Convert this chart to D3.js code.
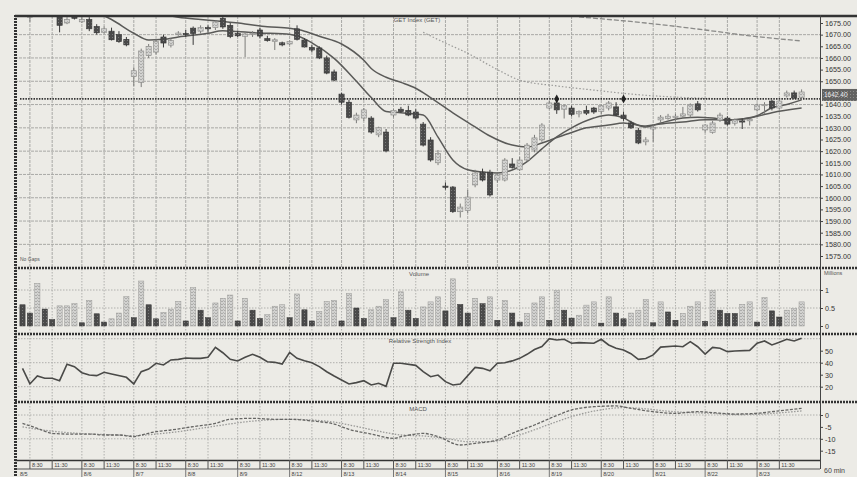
<!DOCTYPE html>
<html><head><meta charset="utf-8">
<script src="https://cdn.jsdelivr.net/npm/d3@7"></script>
<style>
html,body{margin:0;padding:0;background:#ecebe6;}
svg{display:block;font-family:"Liberation Sans",Arial,sans-serif;}
</style></head><body>
<svg id="c" width="857" height="477"></svg>
<script>
// ---------- DATA ----------
const open  = [1680,1677.5,1679,1682,1681,1679,1675,1678,1675.5,1676.5,1673.5,1671,1671.5,1670,1668,1652,1649.5,1661,1662.5,1669,1665.5,1670,1670.5,1672.8,1671.5,1673,1673,1677,1674,1670.5,1669.3,1670,1672,1668.3,1667,1666.5,1666,1672.5,1667.7,1664.5,1664.3,1660,1654,1644.5,1641,1633.4,1634.2,1634.2,1627,1628.2,1635.5,1638,1637.5,1636.8,1631.6,1624.8,1615,1605,1604.6,1594,1594.5,1605.5,1611,1611,1607.6,1607.6,1614.5,1612,1616.2,1620.5,1624.8,1638.5,1640.7,1638,1638.5,1636,1637.5,1638.5,1637,1638.5,1639,1635.5,1632.1,1629,1624,1629.5,1633.4,1634,1634.5,1635,1635.5,1640.3,1629.1,1628,1633.4,1634.2,1632,1633,1633,1637.7,1639.5,1641.5,1638.5,1643.7,1645,1643];
const high  = [1682,1679,1683,1684,1682,1680,1677.5,1680,1677.5,1677.5,1674.5,1673.5,1673,1671.5,1669,1656,1664,1666,1668,1670,1668.5,1671.5,1672,1673.5,1674,1674,1676,1678,1675,1671.5,1671,1671.5,1673,1669.5,1668.5,1667,1667.5,1674,1668.5,1665.5,1665,1661,1655,1645,1642,1636.5,1638.5,1635,1630.5,1629.5,1638,1639,1639.5,1638,1632.5,1626,1620.5,1606.5,1605,1597.5,1603.3,1612,1612.5,1612,1610.5,1617,1617,1617.5,1623.5,1627,1632,1641.5,1642.5,1640,1639.5,1637.5,1639.5,1639,1640,1641.5,1641,1637,1633,1630,1626,1631.5,1635.5,1636,1636,1639,1640.5,1641.5,1631.5,1633,1636.5,1635,1634,1634,1634,1640.5,1641,1642,1642,1646,1646,1646.5];
const low   = [1678.5,1675.5,1678,1680,1677.5,1671,1674.5,1676.5,1675,1671.5,1670,1670.5,1667.5,1666.5,1665,1648,1647.5,1660,1661.5,1664.5,1664.5,1669.5,1669,1665.6,1670.5,1671,1672,1672.5,1668.5,1669,1660.4,1669,1668.5,1667,1663.4,1665,1665.5,1667.5,1664.5,1662.5,1659.5,1653,1650,1640,1634,1632,1633,1627.5,1626,1619.5,1634.5,1636.5,1635,1633.5,1622,1615.5,1614,1603.5,1593.5,1591.5,1593.5,1604.5,1607,1600.5,1606.5,1607,1612.5,1611.5,1615.5,1619.5,1624,1638,1636,1634,1635,1634.5,1635.5,1636,1636,1637.5,1635,1633,1629.5,1623,1622.5,1624,1632.5,1633.5,1633,1634.5,1634.5,1637,1628,1627.5,1632.5,1631,1631,1629.5,1631,1637,1636,1637.5,1638,1643,1642.5,1642.5];
const close = [1681,1678,1682,1681,1679,1674,1676.5,1677,1676.5,1672.5,1670.8,1672.5,1667.8,1667,1665.6,1654.5,1663,1665,1667,1666.4,1667.5,1670.7,1670.2,1670.5,1673,1672.5,1675.5,1673.3,1669.2,1669.5,1670.3,1670.5,1669.4,1667.4,1667.8,1665.6,1667,1668,1664.7,1663.4,1660,1653.5,1650.5,1641,1634.5,1635.5,1637.7,1628.2,1630,1620.1,1637.5,1637,1635.5,1634.2,1622.6,1616.2,1619,1604.6,1594,1596,1600.3,1610.6,1607.6,1601.2,1609.8,1616.2,1613,1616.2,1622.6,1625.7,1631.2,1640.7,1637.7,1639.5,1635.8,1637,1636.3,1636.8,1639.5,1640.7,1635.5,1634,1630,1623.5,1624.8,1630.3,1634.6,1635,1635,1636,1639.8,1637.7,1631.2,1632.1,1635.5,1631.6,1633.4,1632.5,1633.6,1639.8,1640,1638.5,1641.5,1645,1642.8,1645.4];

// fast / slow averages and two long averages, read as [bar, price] points
const maFast = [[10,1679.5],[12,1676.5],[15,1670.6],[17,1667.7],[19,1668],[21,1669],[25,1670.6],[27,1671.7],[29,1671.3],[32,1670.7],[35,1670.4],[37,1669.5],[39,1666.5],[42,1659.8],[45,1650],[47,1643],[49,1637],[51,1636.5],[54,1635.5],[56,1626],[58,1616.2],[60,1612],[62,1611],[64,1610.6],[66,1611.9],[68,1615.5],[70,1621],[72,1626.1],[74,1630],[77,1634.2],[79,1635.5],[81,1634.3],[82,1632.5],[84,1630.4],[86,1632.1],[89,1634.2],[91,1634.6],[93,1634.2],[95,1633.4],[97,1633.8],[99,1635.2],[101,1638.6],[103,1640],[105,1642]];
const maSlow = [[18,1679],[21,1677.5],[24,1676.5],[27,1675.6],[30,1674.6],[33,1673.4],[36,1672.7],[38,1671.5],[40,1669.3],[43,1666],[46,1659],[47,1655.5],[49,1651.7],[51,1649.5],[53,1647],[55,1643],[58,1636.4],[61,1630.4],[63,1626.5],[66,1622.6],[68,1621.8],[70,1623.5],[72,1625.8],[74,1628],[76,1630],[79,1631.2],[81,1632.1],[84,1630.8],[86,1631.7],[89,1632.5],[92,1633.5],[95,1633.4],[98,1634.2],[101,1636.5],[105,1638.5]];
const maLong1 = [[54,1671],[57,1666.4],[60,1662],[64,1655],[67,1650.5],[72,1648],[77,1646.2],[82,1644.5],[88,1643.2],[93,1642.6]];
const maLong2 = [[75,1677.6],[84,1675],[92,1672],[98,1669.5],[105,1667.3]];
const lastPrice = 1642.4;
const markerBars = [72, 81];

const volume = [0.59,0.36,1.18,0.47,0.18,0.56,0.56,0.62,0.09,0.71,0.34,0.11,0.2,0.36,0.82,0.23,1.25,0.59,0.2,0.38,0.47,0.68,0.14,1.07,0.44,0.23,0.64,0.77,0.86,0.14,0.77,0.44,0.21,0.32,0.55,0.59,0.23,0.89,0.45,0.14,0.41,0.68,0.71,0.14,0.91,0.5,0.21,0.45,0.55,0.73,0.23,0.95,0.44,0.21,0.53,0.67,0.81,0.42,1.31,0.6,0.36,0.77,0.62,0.81,0.16,0.71,0.36,0.11,0.35,0.64,0.81,0.16,0.99,0.44,0.22,0.3,0.58,0.67,0.08,0.81,0.36,0.2,0.36,0.44,0.74,0.09,0.67,0.39,0.16,0.35,0.55,0.67,0.13,0.99,0.44,0.35,0.35,0.6,0.67,0.11,0.79,0.42,0.25,0.44,0.49,0.67];
const volTone = ("ddlddllldl"+"ddllldlddl"+"lldlddllld"+"lddllldldd"+"llldlddlll"+"dlddllldld"+"dldldlddll"+"ldlddllldl"+"ddllldlddl"+"lldldddlld"+"lddlll").split("");

const rsi = [[0,35.3],[1,22.3],[2,28.9],[3,27],[4,27],[5,25],[6,38.7],[7,36.7],[8,31.7],[9,29.7],[10,29.2],[11,32],[12,30.6],[14,27.8],[15,22.3],[16,32.5],[17,34.7],[18,39.5],[19,38.1],[20,42.3],[21,42.8],[22,43.9],[23,43.6],[24,43.6],[25,44.5],[26,52.8],[27,48.3],[28,42.8],[29,41.4],[30,44.5],[31,47],[32,44.5],[33,40.8],[34,40.3],[35,38.9],[36,48.6],[37,43.6],[38,41.7],[39,40],[40,36.7],[41,32.5],[42,28.9],[43,25.6],[44,22.3],[45,23.4],[46,25],[47,21.4],[48,22.8],[49,20.3],[50,39.5],[51,39.5],[53,37.8],[54,32.5],[55,28.3],[56,29.7],[57,24.2],[58,21.4],[59,22.3],[61,36.1],[62,35.3],[63,33.3],[64,39.5],[65,40],[66,41.5],[67,43.6],[68,47],[69,51],[70,53.5],[71,60],[72,58.9],[73,59.5],[74,56.2],[75,56.7],[77,56.2],[78,59.5],[79,54.8],[80,52],[81,50.6],[82,47.5],[83,42.8],[84,43.5],[85,46.5],[86,53],[88,53.9],[89,53.3],[90,57.5],[91,53.3],[92,47.2],[93,52.8],[94,52],[95,49.2],[96,49.8],[98,50.3],[99,56.2],[100,58.1],[101,54.8],[102,57],[103,59.5],[104,58.1],[105,60.3]];

const macd = [[0,-3.5],[2,-5.6],[4,-7.7],[6,-8],[9,-8],[11,-8.4],[13,-8.4],[15,-9.1],[16,-8.4],[18,-7],[20,-6.3],[23,-4.9],[26,-3.5],[28,-1.8],[31,-1.4],[34,-1.8],[36,-1.8],[39,-2.5],[42,-3.8],[44,-6],[47,-8],[50,-9.8],[51,-9.1],[53,-8],[54,-7.7],[56,-9.1],[59,-12.6],[61,-11.9],[64,-10.5],[66,-7.7],[69,-4.2],[72,-0.2],[74,2.1],[77,3.5],[80,3.8],[82,2.8],[85,1.4],[88,0.7],[91,1.4],[93,1.0],[96,0.4],[99,0.7],[101,1.4],[105,2.8]];
const signal = [[0,-5],[4,-6.8],[8,-7.8],[12,-8.3],[15,-8.7],[18,-8],[21,-7],[24,-5.6],[27,-4.2],[30,-2.9],[33,-2.1],[36,-1.8],[39,-2.1],[42,-3],[45,-4.8],[48,-6.8],[51,-8.4],[54,-8.8],[57,-9.8],[60,-11.2],[63,-11.2],[66,-9.3],[69,-6.2],[72,-2.8],[75,0.2],[78,2.2],[81,3.1],[84,2.6],[87,1.6],[90,1.0],[93,0.7],[96,0.2],[99,0.3],[102,0.9],[105,1.7]];

// 1645.00 sits under the last-price box in the reference
const priceTicks = [1675,1670,1665,1660,1655,1650,1640,1635,1630,1625,1620,1615,1610,1605,1600,1595,1590,1585,1580,1575];
const priceGrid = [1670,1660,1650,1640,1630,1620,1610,1600,1590,1580];
const volTicks = [1,0.5,0]; const volGrid=[0.5,1];
const rsiTicks = [50,40,30,20]; const rsiGrid=[20,40,60];
const macdTicks = [0,-5,-10,-15]; const macdGrid=[0,-10];
const dates = ["8/5","8/6","8/7","8/8","8/9","8/12","8/13","8/14","8/15","8/16","8/19","8/20","8/21","8/22","8/23"];
const sessionTimes = ["8:30","11:30"];
const barsPerDay = 7;

// ---------- DRAWING ----------
const svg = d3.select("#c");
const L = 15, R = 820;
const x = d3.scaleLinear().domain([0,105]).range([22.5, 22.5+105*7.42]);
const yP = d3.scaleLinear().domain([1575,1675]).range([256,23]);
const yV = d3.scaleLinear().domain([0,1]).range([326,290]);
const yR = d3.scaleLinear().domain([20,50]).range([386.7,350.7]);
const yM = d3.scaleLinear().domain([-15,0]).range([450.7,415]);
const panels = [{t:16,b:267},{t:269,b:333},{t:335,b:401},{t:403,b:460}];

const defs = svg.append("defs");
panels.forEach((p,i)=>{
  defs.append("clipPath").attr("id","clip"+i).append("rect")
    .attr("x",L).attr("y",p.t).attr("width",R-L).attr("height",p.b-p.t);
});
const pl = defs.append("pattern").attr("id","hatchL").attr("width",3).attr("height",3).attr("patternUnits","userSpaceOnUse");
pl.append("rect").attr("width",3).attr("height",3).attr("fill","#d2d2d0");
pl.append("path").attr("d","M0,2 L1.5,0.5 L3,2").attr("stroke","#9c9c9a").attr("stroke-width",0.7).attr("fill","none");
const pd = defs.append("pattern").attr("id","hatchD").attr("width",3).attr("height",3).attr("patternUnits","userSpaceOnUse");
pd.append("rect").attr("width",3).attr("height",3).attr("fill","#4a4a4a");
pd.append("rect").attr("x",1).attr("y",1).attr("width",1).attr("height",1).attr("fill","#7a7a7a");

// gridlines
const days = d3.range(dates.length);
const gridBars = days.flatMap(k=>[k*barsPerDay+1, k*barsPerDay+4]);
const g = svg.append("g");
panels.forEach((p,i)=>{
  g.selectAll(null).data(gridBars).enter().append("line")
    .attr("x1",d=>x(d)).attr("x2",d=>x(d)).attr("y1",p.t).attr("y2",p.b)
    .attr("stroke", i===0?"#a9a9a6":"#b0b0ad").attr("stroke-width",1)
    .attr("stroke-dasharray", i===0?"3,1":"1.5,1.5");
});
g.selectAll(null).data(priceGrid).enter().append("line")
  .attr("x1",L).attr("x2",R).attr("y1",d=>yP(d)).attr("y2",d=>yP(d))
  .attr("stroke","#a9a9a6").attr("stroke-dasharray","3,1");
g.selectAll(null).data(volGrid).enter().append("line")
  .attr("x1",L).attr("x2",R).attr("y1",d=>yV(d)).attr("y2",d=>yV(d))
  .attr("stroke","#b0b0ad").attr("stroke-dasharray","1.5,1.5");
g.selectAll(null).data(rsiGrid).enter().append("line")
  .attr("x1",L).attr("x2",R).attr("y1",d=>yR(d)).attr("y2",d=>yR(d))
  .attr("stroke","#b0b0ad").attr("stroke-dasharray","1.5,1.5");
g.selectAll(null).data(macdGrid).enter().append("line")
  .attr("x1",L).attr("x2",R).attr("y1",d=>yM(d)).attr("y2",d=>yM(d))
  .attr("stroke","#b0b0ad").attr("stroke-dasharray","1.5,1.5");

// main panel
const main = svg.append("g").attr("clip-path","url(#clip0)");
const bars = d3.range(open.length);
const lineP = d3.line().x(d=>x(d[0])).y(d=>yP(d[1])).curve(d3.curveMonotoneX);
main.append("path").attr("d",lineP(maLong2)).attr("fill","none").attr("stroke","#8a8a88").attr("stroke-width",1.3).attr("stroke-dasharray","5,2");
main.append("path").attr("d",lineP(maLong1)).attr("fill","none").attr("stroke","#9a9a98").attr("stroke-width",1.2).attr("stroke-dasharray","1.5,2");
main.append("line").attr("x1",L+5).attr("x2",R).attr("y1",yP(lastPrice)).attr("y2",yP(lastPrice))
  .attr("stroke","#333").attr("stroke-width",1.8).attr("stroke-dasharray","1.5,1.2");
main.append("path").attr("d",lineP(maSlow)).attr("fill","none").attr("stroke","#5a5a58").attr("stroke-width",1.5);
main.append("path").attr("d",lineP(maFast)).attr("fill","none").attr("stroke","#5a5a58").attr("stroke-width",1.5);

main.selectAll(".wick").data(bars).enter().append("line")
  .attr("x1",i=>x(i)).attr("x2",i=>x(i)).attr("y1",i=>yP(high[i])).attr("y2",i=>yP(low[i]))
  .attr("stroke",i=>close[i]<open[i]?"#3a3a3a":"#7c7c7a").attr("stroke-width",1);
main.selectAll(".body").data(bars).enter().append("rect")
  .attr("x",i=>x(i)-2.6).attr("width",5.2)
  .attr("y",i=>yP(Math.max(open[i],close[i])))
  .attr("height",i=>Math.max(1.2,Math.abs(yP(open[i])-yP(close[i]))))
  .attr("fill",i=>close[i]<open[i]?"url(#hatchD)":"url(#hatchL)")
  .attr("stroke",i=>close[i]<open[i]?"#333":"#8a8a88").attr("stroke-width",0.6);
main.selectAll(".mk").data(markerBars).enter().append("path")
  .attr("d",d3.symbol(d3.symbolDiamond,22))
  .attr("transform",d=>`translate(${x(d)},${yP(lastPrice)})`).attr("fill","#222");

// volume
const vol = svg.append("g").attr("clip-path","url(#clip1)");
vol.selectAll("rect").data(bars).enter().append("rect")
  .attr("x",i=>x(i)-2.6).attr("width",5.2)
  .attr("y",i=>yV(volume[i])).attr("height",i=>yV(0)-yV(volume[i]))
  .attr("fill",i=>volTone[i]==="d"?"url(#hatchD)":"url(#hatchL)")
  .attr("stroke",i=>volTone[i]==="d"?"#333":"#9a9a98").attr("stroke-width",0.5);

// RSI
const lineR = d3.line().x(d=>x(d[0])).y(d=>yR(d[1]));
svg.append("g").attr("clip-path","url(#clip2)").append("path").attr("d",lineR(rsi))
  .attr("fill","none").attr("stroke","#4a4a48").attr("stroke-width",1.6);

// MACD
const lineM = d3.line().x(d=>x(d[0])).y(d=>yM(d[1])).curve(d3.curveMonotoneX);
const mg = svg.append("g").attr("clip-path","url(#clip3)");
mg.append("path").attr("d",lineM(signal)).attr("fill","none").attr("stroke","#9a9a98").attr("stroke-width",1.3).attr("stroke-dasharray","1.5,1.5");
mg.append("path").attr("d",lineM(macd)).attr("fill","none").attr("stroke","#666664").attr("stroke-width",1.3).attr("stroke-dasharray","3,1.5");

// borders
const bd = svg.append("g");
[16,268,334,402].forEach(yy=>{
  bd.append("line").attr("x1",L).attr("x2",857).attr("y1",yy).attr("y2",yy)
    .attr("stroke","#333").attr("stroke-width",2.5).attr("stroke-dasharray", yy===16?null:"2,1");
});
bd.append("line").attr("x1",L).attr("x2",R).attr("y1",460.5).attr("y2",460.5).attr("stroke","#333").attr("stroke-width",1.5);
bd.append("line").attr("x1",L).attr("x2",R).attr("y1",469).attr("y2",469).attr("stroke","#555").attr("stroke-width",1);
bd.append("line").attr("x1",15.5).attr("x2",15.5).attr("y1",15).attr("y2",477)
  .attr("stroke","#333").attr("stroke-width",3).attr("stroke-dasharray","2,1");
bd.append("line").attr("x1",R+0.5).attr("x2",R+0.5).attr("y1",15).attr("y2",469)
  .attr("stroke","#444").attr("stroke-width",1);

// axes
function rightAxis(scale, ticks, fmt){
  const a = svg.append("g").attr("transform",`translate(${R},0)`)
    .call(d3.axisRight(scale).tickValues(ticks).tickFormat(fmt).tickSize(3).tickPadding(2));
  a.select(".domain").remove();
  a.selectAll("line").attr("stroke","#444");
  a.selectAll("text").attr("font-size",7.2).attr("fill","#333").attr("font-family","Liberation Sans, Arial, sans-serif");
  return a;
}
rightAxis(yP, priceTicks, d=>d.toFixed(2));
rightAxis(yV, volTicks, d=>d===0.5?"0.5":String(d));
rightAxis(yR, rsiTicks, d=>String(d));
rightAxis(yM, macdTicks, d=>String(d));

// last-price box on the axis (covers the 1645 level, as in the reference)
svg.append("rect").attr("x",R+2).attr("y",yP(lastPrice)-10).attr("width",35).attr("height",12)
  .attr("fill","url(#hatchD)").attr("opacity",0.85);
svg.append("text").attr("x",R+4).attr("y",yP(lastPrice)-1.5).attr("font-size",6.5).attr("fill","#eee").text(lastPrice.toFixed(2));

// titles
const tt = svg.append("g").attr("font-size",6).attr("fill","#555").attr("text-anchor","middle");
tt.append("text").attr("x",417).attr("y",22).text("GET Index (GET)");
tt.append("text").attr("x",419).attr("y",276).text("Volume");
tt.append("text").attr("x",420).attr("y",343).text("Relative Strength Index");
tt.append("text").attr("x",418).attr("y",411).text("MACD");
svg.append("text").attr("x",20).attr("y",261).attr("font-size",5).attr("fill","#555").text("No Gaps");
svg.append("text").attr("x",824).attr("y",275).attr("font-size",5.5).attr("fill","#555").text("Millions");
svg.append("text").attr("x",824).attr("y",473).attr("font-size",7).attr("fill","#444").text("60 min");

// time axis rows
const ta = svg.append("g").attr("font-size",5.5).attr("fill","#444");
ta.selectAll(".sep").data(gridBars).enter().append("line")
  .attr("x1",d=>x(d)).attr("x2",d=>x(d)).attr("y1",460).attr("y2",469).attr("stroke","#555");
ta.selectAll(".tl").data(gridBars).enter().append("text")
  .attr("x",d=>x(d)+2).attr("y",467).text((d,i)=>sessionTimes[i%2]);
ta.selectAll(".dsep").data(days.slice(1)).enter().append("line")
  .attr("x1",k=>x(k*barsPerDay+1)).attr("x2",k=>x(k*barsPerDay+1)).attr("y1",469).attr("y2",477).attr("stroke","#777");
ta.selectAll(".dl").data(days).enter().append("text")
  .attr("x",k=>k===0?L+5:x(k*barsPerDay+1)+2).attr("y",476).text(k=>dates[k]);
</script>
</body></html>
